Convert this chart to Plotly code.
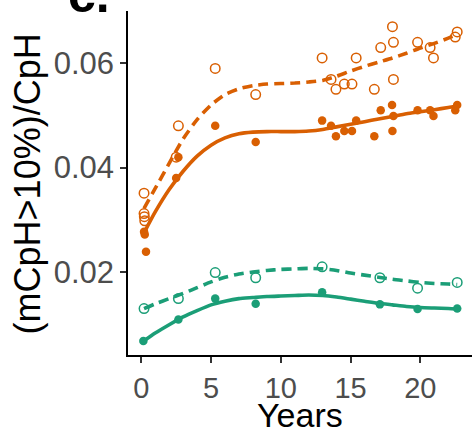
import plotly.graph_objects as go

ORANGE = "#D95F02"
GREEN = "#1B9E77"

# Observed points (Years, ratio)
orange_open_x = [0.2, 0.2, 0.22, 0.25, 2.5, 2.66, 5.3, 8.2, 12.96, 13.6, 13.95, 14.55, 15.1, 15.4,
                 16.7, 17.16, 18.0, 18.07, 18.07, 19.8, 20.7, 20.94, 22.5, 22.64]
orange_open_y = [0.0351, 0.0312, 0.0306, 0.0298, 0.042, 0.048, 0.059, 0.054, 0.061, 0.0569, 0.055,
                 0.056, 0.056, 0.061, 0.055, 0.063, 0.067, 0.064, 0.0569, 0.064, 0.063, 0.061, 0.065, 0.066]

orange_fill_x = [0.2, 0.25, 0.34, 2.5, 2.66, 5.3, 8.2, 12.96, 13.6, 13.95, 14.55, 15.1, 15.4, 16.7,
                 17.16, 17.97, 18.07, 18.0, 19.8, 20.7, 20.94, 22.5, 22.64]
orange_fill_y = [0.0277, 0.0272, 0.0239, 0.038, 0.042, 0.048, 0.0449, 0.049, 0.048, 0.046, 0.047,
                 0.047, 0.049, 0.046, 0.051, 0.052, 0.0499, 0.047, 0.051, 0.051, 0.0499, 0.051, 0.052]

green_open_x = [0.2, 2.66, 5.3, 8.2, 12.96, 17.1, 19.8, 22.64]
green_open_y = [0.013, 0.0149, 0.0199, 0.0189, 0.021, 0.0189, 0.0169, 0.018]

green_fill_x = [0.15, 2.66, 5.3, 8.2, 12.96, 17.1, 19.8, 22.64]
green_fill_y = [0.0068, 0.0109, 0.0149, 0.0139, 0.0161, 0.0138, 0.0129, 0.013]

# Smoothed fit curves at regular x positions
fit_x = [0.2, 1, 2, 3, 4, 5, 6, 7, 8, 9, 10, 11, 12, 13, 14, 15, 16, 17, 18, 19, 20, 21, 22, 22.64]
orange_solid_y = [0.0275, 0.0315, 0.0358, 0.0393, 0.0422, 0.0443, 0.0457, 0.0465, 0.0468, 0.0469, 0.0469,
                  0.0469, 0.0470, 0.0473, 0.0478, 0.0483, 0.0488, 0.0493, 0.0498, 0.0503, 0.0507, 0.0511,
                  0.0515, 0.0518]
orange_dash_y = [0.0322, 0.0360, 0.0408, 0.0455, 0.0492, 0.0520, 0.0540, 0.0551, 0.0557, 0.0560, 0.0561,
                 0.0562, 0.0564, 0.0567, 0.0575, 0.0585, 0.0594, 0.0602, 0.0610, 0.0619, 0.0629, 0.0638,
                 0.0648, 0.0655]
green_solid_y = [0.0068, 0.0083, 0.0099, 0.0114, 0.0126, 0.0137, 0.0144, 0.0149, 0.0151, 0.0153, 0.0154,
                 0.0155, 0.0156, 0.0155, 0.0152, 0.0148, 0.0144, 0.0140, 0.0137, 0.0134, 0.0132, 0.0131,
                 0.0130, 0.0129]
green_dash_y = [0.0130, 0.0139, 0.0149, 0.0159, 0.0170, 0.0181, 0.0190, 0.0196, 0.0200, 0.0203, 0.0205,
                0.0206, 0.0207, 0.0206, 0.0203, 0.0198, 0.0194, 0.0190, 0.0186, 0.0183, 0.0180, 0.0178,
                0.0177, 0.0176]

x_ticks = [0, 5, 10, 15, 20]
y_ticks = [0.02, 0.04, 0.06]
y_tick_labels = ["0.02", "0.04", "0.06"]
x_title = "Years"
y_title = "(mCpH>10%)/CpH"
panel_label = "<b>c.</b>"

fig = go.Figure()

def curve(y, color, dash):
    fig.add_trace(go.Scatter(x=fit_x, y=y, mode="lines",
                             line=dict(color=color, width=3.6, dash=dash, shape="spline", smoothing=0.6),
                             showlegend=False, hoverinfo="skip"))

def pts(x, y, color, filled):
    if filled:
        m = dict(symbol="circle", size=8.5, color=color, line=dict(width=0))
    else:
        m = dict(symbol="circle-open", size=9.5, color=color, line=dict(width=1.5, color=color))
    fig.add_trace(go.Scatter(x=x, y=y, mode="markers", marker=m, showlegend=False))

curve(orange_solid_y, ORANGE, "solid")
curve(orange_dash_y, ORANGE, "10px,6px")
curve(green_solid_y, GREEN, "solid")
curve(green_dash_y, GREEN, "10px,6px")
pts(orange_open_x, orange_open_y, ORANGE, False)
pts(orange_fill_x, orange_fill_y, ORANGE, True)
pts(green_open_x, green_open_y, GREEN, False)
pts(green_fill_x, green_fill_y, GREEN, True)

FONT = "Liberation Sans, Arial, sans-serif"
fig.update_layout(
    width=473, height=430,
    margin=dict(l=128, r=1, t=11, b=75),
    paper_bgcolor="white", plot_bgcolor="white",
    font=dict(family=FONT),
    xaxis=dict(range=[-0.95, 23.7], tickvals=x_ticks, showgrid=False, zeroline=False, automargin=False,
               showline=True, linecolor="black", linewidth=1.5,
               ticks="outside", ticklen=6, tickwidth=1.5, tickcolor="#333333",
               tickfont=dict(size=29, color="#4D4D4D")),
    yaxis=dict(range=[0.0041, 0.0700], tickvals=y_ticks, ticktext=y_tick_labels, showgrid=False, zeroline=False,
               automargin=False, showline=True, linecolor="black", linewidth=1.5,
               ticks="outside", ticklen=6, tickwidth=1.5, tickcolor="#333333",
               tickfont=dict(size=31, color="#4D4D4D")),
)

fig.add_annotation(text=x_title, xref="paper", yref="paper", x=0.5, y=-0.173,
                   xanchor="center", yanchor="middle", showarrow=False,
                   font=dict(size=34, color="black", family=FONT))
fig.add_annotation(text=y_title, xref="paper", yref="paper", x=-0.291, y=0.4985, textangle=-90,
                   xanchor="center", yanchor="middle", showarrow=False,
                   font=dict(size=36, color="black", family=FONT))
fig.add_annotation(text=panel_label, xref="paper", yref="paper", x=-0.18, y=0.959,
                   xanchor="left", yanchor="bottom", showarrow=False,
                   font=dict(size=50, color="black", family=FONT))

fig.write_html("out.html")
